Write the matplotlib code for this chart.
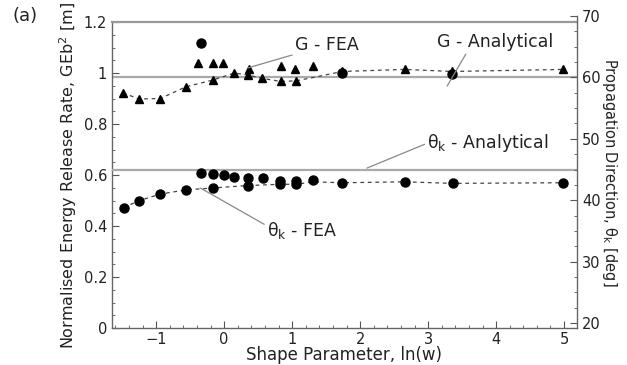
import matplotlib
matplotlib.use('Agg')
import matplotlib.pyplot as plt
from matplotlib.ticker import MultipleLocator

plt.rcParams['font.family'] = ['DejaVu Sans']
plt.rcParams['mathtext.fontset'] = 'dejavusans'

# G - FEA (triangles)
g_x = [-1.49, -1.26, -0.94, -0.56, -0.39, -0.17, -0.01, -0.16, 0.15, 0.36, 0.35,
       0.55, 0.83, 0.83, 1.04, 1.06, 1.30, 1.74, 2.66, 3.35, 4.99]
g_fea = [0.923, 0.898, 0.900, 0.946, 1.040, 1.038, 1.038, 0.973, 1.000, 1.016, 0.992,
         0.979, 1.027, 0.967, 1.014, 0.969, 1.026, 1.006, 1.014, 1.006, 1.014]
# G - FEA (circles)
g2_x = [-0.34, 1.74, 3.35]
g2_fea = [1.118, 1.000, 0.998]
# G trend (dashed)
gl_x = [-1.49, -1.26, -0.94, -0.56, -0.16, 0.15, 0.35, 0.56, 0.83, 1.05, 1.30, 1.74, 2.66, 3.35, 4.99]
gl_y = [0.923, 0.898, 0.900, 0.946, 0.973, 1.000, 0.992, 0.979, 0.967, 0.969, 0.982, 1.006, 1.014, 1.006, 1.014]
g_analytical = 0.983

# theta_k - FEA [deg]
t_x = [-1.48, -1.26, -0.94, -0.56, -0.34, -0.17, 0.00, 0.15, -0.16, 0.35, 0.35, 0.57,
       0.82, 0.82, 1.06, 1.06, 1.31, 1.74, 2.66, 3.36, 4.99]
t_fea = [38.8, 39.9, 41.0, 41.7, 44.4, 44.3, 44.05, 43.8, 42.0, 43.7, 42.4, 43.6,
         43.2, 42.6, 43.1, 42.6, 43.3, 42.85, 43.0, 42.75, 42.85]
tl_x = [-1.48, -1.26, -0.94, -0.56, -0.16, 0.35, 0.82, 1.06, 1.31, 1.74, 2.66, 3.36, 4.99]
tl_y = [38.8, 39.9, 41.0, 41.7, 42.0, 42.4, 42.6, 42.6, 43.0, 42.85, 43.0, 42.75, 42.85]
t_analytical = 45.0

W, H = 627, 365
fig = plt.figure(figsize=(W / 100, H / 100), dpi=100)
ax = fig.add_axes([112 / W, 1 - 328 / H, 465 / W, 306 / H])
# right axis is slightly offset vertically in the original
ax2 = fig.add_axes([112 / W, 1 - 328 / H, 465 / W, 312 / H], sharex=ax)
ax2.patch.set_alpha(0)

txt = '#222222'
ax.axhline(g_analytical, color='#aaaaaa', lw=1.6, zorder=1)
ax2.axhline(t_analytical, color='#aaaaaa', lw=1.6, zorder=1)
ax.plot(gl_x, gl_y, color='#444444', lw=0.9, ls=(0, (3, 3)), zorder=2)
ax2.plot(tl_x, tl_y, color='#444444', lw=0.9, ls=(0, (3, 3)), zorder=2)
ax.plot(g_x, g_fea, '^', color='black', ms=6, zorder=3)
ax.plot(g2_x, g2_fea, 'o', color='black', ms=6.5, zorder=3)
ax2.plot(t_x, t_fea, 'o', color='black', ms=6.5, zorder=3)

ax.set_xlim(-1.65, 5.19)
ax.set_ylim(0, 1.2)
ax2.set_ylim(19.2, 70)

ax.xaxis.set_major_locator(MultipleLocator(1))
ax.xaxis.set_minor_locator(MultipleLocator(0.2))
ax.yaxis.set_minor_locator(MultipleLocator(0.05))
ax.set_yticks([0, 0.2, 0.4, 0.6, 0.8, 1, 1.2])
ax.set_yticklabels(['0', '0.2', '0.4', '0.6', '0.8', '1', '1.2'])
ax2.yaxis.set_major_locator(MultipleLocator(10))
ax2.yaxis.set_minor_locator(MultipleLocator(2.5))

for s in ['left', 'top', 'bottom']:
    ax2.spines[s].set_visible(False)
ax.spines['right'].set_visible(False)
for sp in list(ax.spines.values()) + [ax2.spines['right']]:
    sp.set_color('#666666')
    sp.set_linewidth(1.0)
ax.spines['top'].set_color('#999999')
ax.spines['top'].set_linewidth(1.6)

ax.tick_params(axis='both', which='both', direction='in', top=False, right=False,
               colors='#555555', labelcolor=txt, labelsize=10.5)
ax.tick_params(which='major', length=5)
ax.tick_params(which='minor', length=2.5)
ax.tick_params(axis='x', pad=3)
ax2.tick_params(axis='y', which='both', direction='in', left=False, right=True,
                labelleft=False, labelright=True, colors='#555555', labelcolor=txt,
                labelsize=10.5)
ax2.tick_params(which='major', length=5)
ax2.tick_params(which='minor', length=2.5)
ax2.tick_params(axis='x', which='both', bottom=False, labelbottom=False)

ax.set_xlabel('Shape Parameter, ln(w)', fontsize=12, color=txt, labelpad=-1)
ax.set_ylabel('Normalised Energy Release Rate, GEb$^2$ [m]', fontsize=11.5,
              color=txt, labelpad=3)
ax2.set_ylabel(r'Propagation Direction, θ$_\mathrm{k}$ [deg]', fontsize=10.5,
               color=txt, rotation=-90, labelpad=13)
ax2.yaxis.set_label_position('right')

fig.text(13 / W, 1 - 16 / H, '(a)', fontsize=13, color=txt, va='center')

lc = '#888888'
fs = 12.5
ax.annotate('G - FEA', xy=(0.35, 1.02), xytext=(1.04, 1.11), fontsize=fs,
            color=txt, va='center', ha='left',
            arrowprops=dict(arrowstyle='-', color=lc, lw=0.9, shrinkA=0, shrinkB=0))
ax.annotate('G - Analytical', xy=(3.28, 0.949), xytext=(3.13, 1.12), fontsize=fs,
            color=txt, va='center', ha='left',
            arrowprops=dict(arrowstyle='-', color=lc, lw=0.9, shrinkA=0, shrinkB=0,
                            relpos=(0.28, 0.2)))
ax.annotate(r'θ$_\mathrm{k}$ - Analytical', xy=(2.10, 0.627), xytext=(2.99, 0.725),
            fontsize=fs, color=txt, va='center', ha='left',
            arrowprops=dict(arrowstyle='-', color=lc, lw=0.9, shrinkA=0, shrinkB=0,
                            relpos=(0, 0.5)))
ax.annotate(r'θ$_\mathrm{k}$ - FEA', xy=(-0.35, 0.549), xytext=(0.63, 0.384),
            fontsize=fs, color=txt, va='center', ha='left',
            arrowprops=dict(arrowstyle='-', color=lc, lw=0.9, shrinkA=0, shrinkB=0,
                            relpos=(0, 0.7)))

fig.savefig('out.png', dpi=100, facecolor='white')
